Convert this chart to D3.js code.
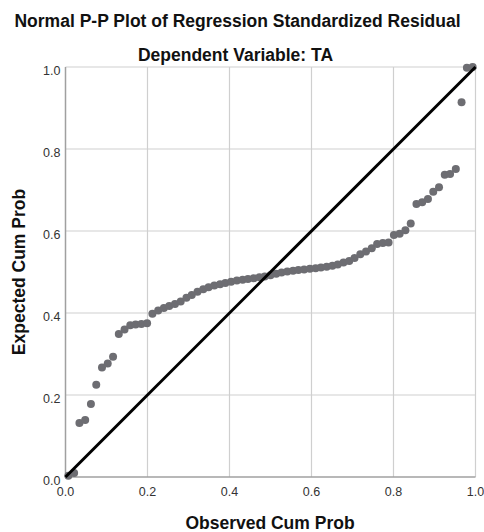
<!DOCTYPE html>
<html><head><meta charset="utf-8">
<script src="https://cdn.jsdelivr.net/npm/d3@7"></script>
<style>body{margin:0;background:#fff;} text{font-family:"Liberation Sans",Arial,sans-serif;}</style>
</head><body>
<svg id="c" width="484" height="532"></svg>
<script>
const observed = [0.007,0.021,0.034,0.048,0.062,0.075,0.089,0.103,0.116,0.130,0.144,0.158,0.171,0.185,0.199,0.212,0.226,0.240,0.253,0.267,0.281,0.295,0.308,0.322,0.336,0.349,0.363,0.377,0.390,0.404,0.418,0.432,0.445,0.459,0.473,0.486,0.500,0.514,0.527,0.541,0.555,0.568,0.582,0.596,0.610,0.623,0.637,0.651,0.664,0.678,0.692,0.705,0.719,0.733,0.747,0.760,0.774,0.788,0.801,0.815,0.829,0.842,0.856,0.870,0.884,0.897,0.911,0.925,0.938,0.952,0.966,0.979,0.993];
const expected = [0.003,0.010,0.132,0.139,0.178,0.225,0.267,0.277,0.293,0.349,0.360,0.370,0.372,0.373,0.375,0.398,0.406,0.412,0.417,0.422,0.428,0.437,0.444,0.452,0.458,0.463,0.467,0.470,0.473,0.476,0.479,0.481,0.483,0.485,0.487,0.489,0.492,0.496,0.499,0.501,0.503,0.505,0.506,0.508,0.509,0.511,0.513,0.515,0.518,0.523,0.527,0.534,0.543,0.550,0.558,0.568,0.571,0.572,0.590,0.593,0.602,0.618,0.666,0.670,0.678,0.696,0.707,0.737,0.739,0.751,0.914,0.998,1.000];
const tickValues = [0,0.2,0.4,0.6,0.8,1.0];
const title = "Normal P-P Plot of Regression Standardized Residual";
const subtitle = "Dependent Variable: TA";
const xTitle = "Observed Cum Prob";
const yTitle = "Expected Cum Prob";

const svg = d3.select("#c");
const L = 65.5, R = 475.5, T = 67, B = 477;
const x = d3.scaleLinear().domain([0,1]).range([L,R]);
const y = d3.scaleLinear().domain([0,1]).range([B,T]);

// grid
const g = svg.append("g");
g.selectAll(".gx").data(tickValues.slice(1)).join("line")
  .attr("x1",d=>x(d)).attr("x2",d=>x(d)).attr("y1",T).attr("y2",B)
  .attr("stroke","#cfcfcf").attr("stroke-width",1.2);
g.selectAll(".gy").data(tickValues.slice(1)).join("line")
  .attr("x1",L).attr("x2",R).attr("y1",d=>y(d)).attr("y2",d=>y(d))
  .attr("stroke","#cfcfcf").attr("stroke-width",1.2);
// axes lines
svg.append("line").attr("x1",L).attr("x2",L).attr("y1",T).attr("y2",B).attr("stroke","#a0a0a0").attr("stroke-width",1.5);
svg.append("line").attr("x1",L).attr("x2",R).attr("y1",B).attr("y2",B).attr("stroke","#a0a0a0").attr("stroke-width",1.5);

// tick labels
svg.selectAll(".tx").data(tickValues).join("text")
  .attr("x",d=>x(d)).attr("y",B+18.5).attr("text-anchor","middle")
  .attr("font-size",12.5).attr("fill","#333").text(d3.format(".1f"));
svg.selectAll(".ty").data(tickValues).join("text")
  .attr("x",L-5).attr("y",d=>y(d)+7.5).attr("text-anchor","end")
  .attr("font-size",12.5).attr("fill","#333").text(d3.format(".1f"));

// points
svg.selectAll(".pt").data(observed.map((o,i)=>[o,expected[i]])).join("circle")
  .attr("cx",d=>x(d[0])).attr("cy",d=>y(d[1])).attr("r",4)
  .attr("fill","#6d6d72");

// reference line
svg.append("line").attr("x1",x(0)).attr("y1",y(0)).attr("x2",x(1)).attr("y2",y(1))
  .attr("stroke","#000").attr("stroke-width",3);

// titles
svg.append("text").attr("x",237.5).attr("y",26.5).attr("text-anchor","middle")
  .attr("font-size",17.5).attr("font-weight","bold").attr("fill","#111").text(title);
svg.append("text").attr("x",235.5).attr("y",60.5).attr("text-anchor","middle")
  .attr("font-size",17.5).attr("font-weight","bold").attr("fill","#111").text(subtitle);
svg.append("text").attr("x",270).attr("y",528.5).attr("text-anchor","middle")
  .attr("font-size",17.5).attr("font-weight","bold").attr("fill","#111").text(xTitle);
svg.append("text").attr("transform","translate(24.5,272) rotate(-90)").attr("text-anchor","middle")
  .attr("font-size",17.5).attr("font-weight","bold").attr("fill","#111").text(yTitle);
</script>
</body></html>
